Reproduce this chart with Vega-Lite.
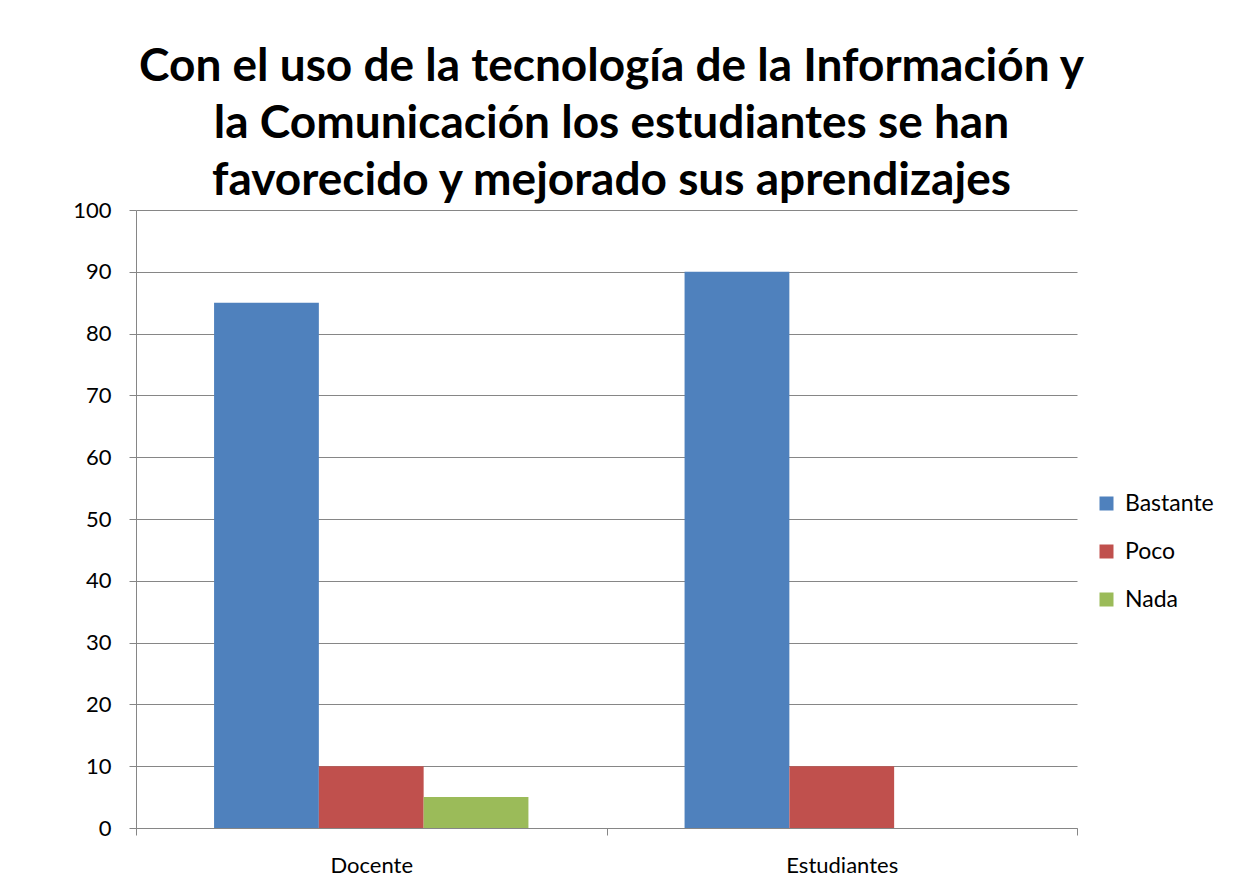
{
  "$schema": "https://vega.github.io/schema/vega-lite/v6.json",
  "width": 941,
  "height": 618,
  "padding": {"left": 72, "top": 44, "right": 5, "bottom": 5},
  "background": "white",
  "title": {
    "text": ["Con el uso de la tecnología de la Información y", "la Comunicación los estudiantes se han", "favorecido y mejorado sus aprendizajes"],
    "font": "Lato",
    "fontSize": 46,
    "fontWeight": "bold",
    "color": "black",
    "lineHeight": 57,
    "anchor": "middle",
    "frame": "group",
    "offset": -6,
    "dx": 5
  },
  "data": {
    "values": [
      {"grupo": "Docente", "respuesta": "Bastante", "valor": 85},
      {"grupo": "Docente", "respuesta": "Poco", "valor": 10},
      {"grupo": "Docente", "respuesta": "Nada", "valor": 5},
      {"grupo": "Estudiantes", "respuesta": "Bastante", "valor": 90},
      {"grupo": "Estudiantes", "respuesta": "Poco", "valor": 10},
      {"grupo": "Estudiantes", "respuesta": "Nada", "valor": 0}
    ]
  },
  "mark": {"type": "bar"},
  "encoding": {
    "x": {
      "field": "grupo",
      "type": "nominal",
      "sort": ["Docente", "Estudiantes"],
      "scale": {"paddingInner": 0, "paddingOuter": 0},
      "axis": {
        "title": null,
        "labelAngle": 0,
        "tickBand": "extent",
        "tickSize": 7,
        "tickColor": "#868686",
        "domainColor": "#868686",
        "labelFont": "Lato",
        "labelFontSize": 22,
        "labelColor": "black",
        "labelPadding": 20,
        "grid": false
      }
    },
    "xOffset": {
      "field": "respuesta",
      "type": "nominal",
      "sort": ["Bastante", "Poco", "Nada"],
      "scale": {"paddingInner": 0, "paddingOuter": 0.745}
    },
    "y": {
      "field": "valor",
      "type": "quantitative",
      "scale": {"domain": [0, 100]},
      "axis": {
        "title": null,
        "values": [0, 10, 20, 30, 40, 50, 60, 70, 80, 90, 100],
        "tickSize": 7,
        "tickColor": "#868686",
        "domainColor": "#868686",
        "gridColor": "#868686",
        "labelFont": "Lato",
        "labelFontSize": 22,
        "labelColor": "black",
        "labelPadding": 18
      }
    },
    "color": {
      "field": "respuesta",
      "type": "nominal",
      "sort": ["Bastante", "Poco", "Nada"],
      "scale": {"domain": ["Bastante", "Poco", "Nada"], "range": ["#4F81BD", "#C0504D", "#9BBB59"]},
      "legend": {
        "title": null,
        "orient": "none",
        "legendX": 959,
        "legendY": 282,
        "symbolType": "square",
        "symbolSize": 196,
        "symbolStrokeWidth": 0,
        "symbolOpacity": 1,
        "labelFont": "Lato",
        "labelFontSize": 23,
        "labelColor": "black",
        "rowPadding": 24,
        "labelOffset": 7
      }
    }
  },
  "config": {
    "view": {"stroke": null},
    "axis": {"gridWidth": 1, "domainWidth": 1, "tickWidth": 1}
  }
}
